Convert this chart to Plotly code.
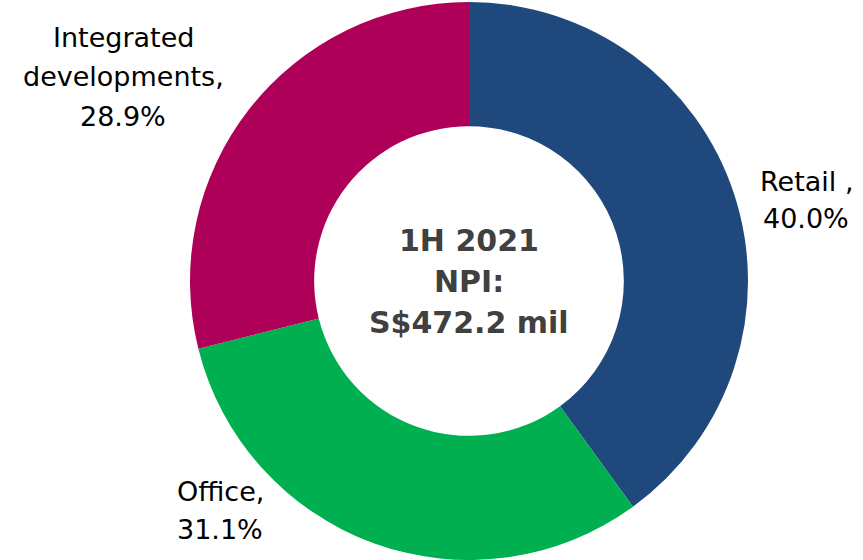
import plotly.graph_objects as go

categories = ["Retail", "Office", "Integrated developments"]
values = [40.0, 31.1, 28.9]
label_lines = [["Retail ,", "40.0%"], ["Office,", "31.1%"], ["Integrated", "developments,", "28.9%"]]
colors = ["#1F497D", "#00B050", "#AE0058"]
center_lines = ["1H 2021", "NPI:", "S$472.2 mil"]

W, H = 863, 560
cx, cy, R = 469, 281, 279
fig = go.Figure(go.Pie(
    labels=categories, values=values, sort=False, direction="clockwise", rotation=0,
    hole=0.555, marker=dict(colors=colors, line=dict(color="white", width=0)),
    textinfo="none", hoverinfo="label+percent", showlegend=False,
    domain=dict(x=[(cx - R) / W, (cx + R) / W], y=[1 - (cy + R) / H, 1 - (cy - R) / H]),
))

label_x = [806, 220, 123]
label_y = [[182, 219], [491, 529], [38, 77, 116]]
annos = []
for lines, px, pys in zip(label_lines, label_x, label_y):
    for t, py in zip(lines, pys):
        annos.append(dict(x=px / W, y=1 - py / H, xref="paper", yref="paper", text=t, showarrow=False,
                          font=dict(family="DejaVu Sans, Verdana, sans-serif", size=27, color="#000000"),
                          xanchor="center", yanchor="middle"))
for t, py in zip(center_lines, [240, 281, 322]):
    annos.append(dict(x=469 / W, y=1 - py / H, xref="paper", yref="paper", text="<b>" + t + "</b>",
                      showarrow=False, font=dict(family="DejaVu Sans, Verdana, sans-serif", size=30, color="#404040"),
                      xanchor="center", yanchor="middle"))

fig.update_layout(width=W, height=H, margin=dict(l=0, r=0, t=0, b=0),
                  paper_bgcolor="white", plot_bgcolor="white", annotations=annos)
fig.write_html("out.html", config={"displayModeBar": False},
               post_script="document.body.style.margin='0';")
